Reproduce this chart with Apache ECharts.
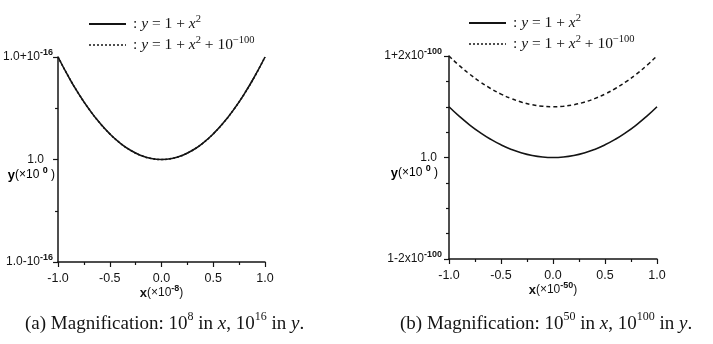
<!DOCTYPE html>
<html>
<head>
<meta charset="utf-8">
<script src="https://cdn.jsdelivr.net/npm/echarts@6/dist/echarts.min.js"></script>
<style>
  html, body { margin: 0; padding: 0; background: #fff; }
  #chart { width: 713px; height: 344px; }
</style>
</head>
<body>
<div id="chart"></div>
<script>
// x in scaled units (x10^-8 for panel a, x10^-50 for panel b)
const xs = [-1.0, -0.9, -0.8, -0.7, -0.6, -0.5, -0.4, -0.3, -0.2, -0.1, 0.0,
            0.1, 0.2, 0.3, 0.4, 0.5, 0.6, 0.7, 0.8, 0.9, 1.0];
// panel a, y offset from 1 in units of 10^-16 (both curves coincide)
const aSolid  = [1.00, 0.81, 0.64, 0.49, 0.36, 0.25, 0.16, 0.09, 0.04, 0.01, 0.00,
                 0.01, 0.04, 0.09, 0.16, 0.25, 0.36, 0.49, 0.64, 0.81, 1.00];
const aDotted = [1.00, 0.81, 0.64, 0.49, 0.36, 0.25, 0.16, 0.09, 0.04, 0.01, 0.00,
                 0.01, 0.04, 0.09, 0.16, 0.25, 0.36, 0.49, 0.64, 0.81, 1.00];
// panel b, y offset from 1 in units of 10^-100
const bSolid  = [1.00, 0.81, 0.64, 0.49, 0.36, 0.25, 0.16, 0.09, 0.04, 0.01, 0.00,
                 0.01, 0.04, 0.09, 0.16, 0.25, 0.36, 0.49, 0.64, 0.81, 1.00];
const bDashed = [2.00, 1.81, 1.64, 1.49, 1.36, 1.25, 1.16, 1.09, 1.04, 1.01, 1.00,
                 1.01, 1.04, 1.09, 1.16, 1.25, 1.36, 1.49, 1.64, 1.81, 2.00];

const xTickLabels = ['-1.0', '-0.5', '0.0', '0.5', '1.0'];
const xTickValues = [-1, -0.5, 0, 0.5, 1];
const yTicksA = [-1, 0, 1];
const yLabelsA = ['{b|1.0-10}{s|-16}', '{p|1.0}', '{b|1.0+10}{s|-16}'];
const yTicksB = [-2, 0, 2];
const yLabelsB = ['{b|1-2x10}{s|-100}', '{q|1.0}', '{b|1+2x10}{s|-100}'];

const legendText = {
  a1: '{c|: }{i|y}{n| = 1 + }{i|x}{s|2}',
  a2: '{c|: }{i|y}{n| = 1 + }{i|x}{s|2}{n| + 10}{s|\u2212100}',
  b1: '{c|: }{i|y}{n| = 1 + }{i|x}{s|2}',
  b2: '{c|: }{i|y}{n| = 1 + }{i|x}{s|2}{n| + 10}{s|\u2212100}'
};

const ink = '#141414';
const sans = 'Liberation Sans';
const serif = 'Liberation Serif';

const pairs = (ys) => xs.map((x, i) => [x, ys[i]]);

const legendRich = {
  c: { fontFamily: serif, fontSize: 15.5, color: ink, lineHeight: 20, padding: [0, 0, 0, 2] },
  n: { fontFamily: serif, fontSize: 15.5, color: ink, lineHeight: 20 },
  i: { fontFamily: serif, fontSize: 15.5, fontStyle: 'italic', color: ink, lineHeight: 20 },
  s: { fontFamily: serif, fontSize: 10.5, color: ink, lineHeight: 11, verticalAlign: 'top' }
};

const labelRich = {
  b: { fontFamily: sans, fontSize: 12, color: ink, lineHeight: 18 },
  p: { fontFamily: sans, fontSize: 12, color: ink, lineHeight: 18, padding: [0, 9, 0, 0] },
  q: { fontFamily: sans, fontSize: 12, color: ink, lineHeight: 18, padding: [0, 5, 0, 0] },
  s: { fontFamily: sans, fontSize: 9, fontWeight: 'bold', color: ink, lineHeight: 9, verticalAlign: 'top' }
};

const nameRich = {
  v: { fontFamily: sans, fontSize: 13, fontWeight: 'bold', color: ink, lineHeight: 18 },
  n: { fontFamily: sans, fontSize: 12, color: ink, lineHeight: 18 },
  s: { fontFamily: sans, fontSize: 9, fontWeight: 'bold', color: ink, lineHeight: 9, verticalAlign: 'top' }
};

const capRich = {
  n: { fontFamily: serif, fontSize: 19, fontWeight: 'normal', color: ink, lineHeight: 26 },
  i: { fontFamily: serif, fontSize: 19, fontWeight: 'normal', fontStyle: 'italic', color: ink, lineHeight: 26 },
  s: { fontFamily: serif, fontSize: 12, fontWeight: 'normal', color: ink, lineHeight: 14, verticalAlign: 'top' }
};

function xAxisFor(gridIndex, nameText) {
  return {
    type: 'value', gridIndex: gridIndex, min: -1, max: 1, interval: 0.5,
    axisLine: { onZero: false, lineStyle: { color: ink, width: 1.5 } },
    axisTick: { length: 5, lineStyle: { color: ink, width: 1.2 } },
    minorTick: { show: true, splitNumber: 2, length: 3, lineStyle: { color: ink, width: 1.2 } },
    splitLine: { show: false },
    axisLabel: {
      margin: 10, color: ink, fontFamily: sans, fontSize: 12.5,
      formatter: (v) => xTickLabels[xTickValues.indexOf(v)]
    },
    name: nameText, nameLocation: 'middle', nameGap: 22, nameMoveOverlap: false,
    nameTextStyle: { rich: nameRich }
  };
}

function yAxisFor(gridIndex, min, max, interval, minorSplit, ticks, labels, margin) {
  return {
    type: 'value', gridIndex: gridIndex, min: min, max: max, interval: interval,
    axisLine: { onZero: false, lineStyle: { color: ink, width: 1.5 } },
    axisTick: { length: 5, lineStyle: { color: ink, width: 1.2 } },
    minorTick: { show: true, splitNumber: minorSplit, length: 3, lineStyle: { color: ink, width: 1.2 } },
    splitLine: { show: false },
    axisLabel: {
      margin: margin,
      formatter: (v) => labels[ticks.indexOf(v)],
      rich: labelRich
    }
  };
}

const chart = echarts.init(document.getElementById('chart'), null, { renderer: 'canvas' });

chart.setOption({
  backgroundColor: '#fff',
  animation: false,
  color: [ink],
  grid: [
    { left: 58, top: 57, width: 207, height: 205 },
    { left: 449, top: 56, width: 208, height: 203 }
  ],
  xAxis: [
    xAxisFor(0, '{v|x}{n|(\u00d710}{s|-8}{n|)}'),
    xAxisFor(1, '{v|x}{n|(\u00d710}{s|-50}{n|)}')
  ],
  yAxis: [
    yAxisFor(0, -1, 1, 1, 2, yTicksA, yLabelsA, 5),
    yAxisFor(1, -2, 2, 2, 4, yTicksB, yLabelsB, 7)
  ],
  legend: [
    {
      left: 83, top: 9, orient: 'vertical', itemWidth: 37, itemHeight: 14, itemGap: 3,
      selectedMode: false,
      itemStyle: { opacity: 0 },
      data: [
        { name: 'a1' },
        { name: 'a2', lineStyle: { type: [2, 2], width: 1.5 } }
      ],
      formatter: (name) => legendText[name],
      textStyle: { rich: legendRich }
    },
    {
      left: 463, top: 8, orient: 'vertical', itemWidth: 37, itemHeight: 14, itemGap: 3,
      selectedMode: false,
      itemStyle: { opacity: 0 },
      data: [
        { name: 'b1' },
        { name: 'b2', lineStyle: { type: [2, 2], width: 1.5 } }
      ],
      formatter: (name) => legendText[name],
      textStyle: { rich: legendRich }
    }
  ],
  title: [
    {
      left: 20, top: 306,
      text: '{n|(a) Magnification: 10}{s|8}{n| in }{i|x}{n|, 10}{s|16}{n| in }{i|y}{n|.}',
      textStyle: { fontWeight: 'normal', rich: capRich }
    },
    {
      left: 395, top: 306,
      text: '{n|(b) Magnification: 10}{s|50}{n| in }{i|x}{n|, 10}{s|100}{n| in }{i|y}{n|.}',
      textStyle: { fontWeight: 'normal', rich: capRich }
    }
  ],
  graphic: [
    {
      type: 'text', x: 55, y: 175,
      style: { text: '{v|y}{n|(\u00d710 }{s|0}{n| )}', align: 'right', verticalAlign: 'middle', rich: nameRich }
    },
    {
      type: 'text', x: 438, y: 173,
      style: { text: '{v|y}{n|(\u00d710 }{s|0}{n| )}', align: 'right', verticalAlign: 'middle', rich: nameRich }
    }
  ],
  series: [
    {
      name: 'a2', type: 'line', xAxisIndex: 0, yAxisIndex: 0, data: pairs(aDotted),
      smooth: true, symbol: 'none', z: 2,
      lineStyle: { color: ink, width: 1.6, type: [2, 2] }
    },
    {
      name: 'a1', type: 'line', xAxisIndex: 0, yAxisIndex: 0, data: pairs(aSolid),
      smooth: true, symbol: 'none', z: 3,
      lineStyle: { color: ink, width: 1.6 }
    },
    {
      name: 'b1', type: 'line', xAxisIndex: 1, yAxisIndex: 1, data: pairs(bSolid),
      smooth: true, symbol: 'none', z: 3,
      lineStyle: { color: ink, width: 1.6 }
    },
    {
      name: 'b2', type: 'line', xAxisIndex: 1, yAxisIndex: 1, data: pairs(bDashed),
      smooth: true, symbol: 'none', z: 2,
      lineStyle: { color: ink, width: 1.5, type: [4, 3] }
    }
  ]
});
</script>
</body>
</html>
